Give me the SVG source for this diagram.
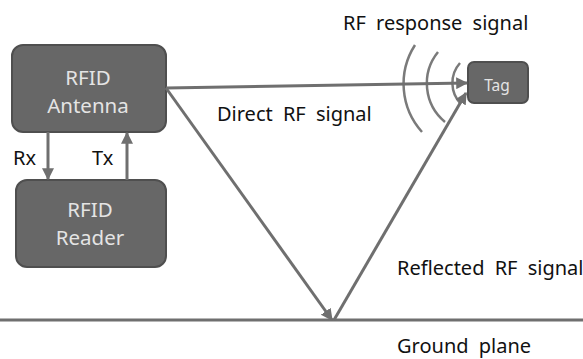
<svg xmlns="http://www.w3.org/2000/svg" width="583" height="359" viewBox="0 0 583 359">
  <style>
    .box { fill: #676767; stroke: #4f4f4f; stroke-width: 2; }
    .boxtxt { fill: #e4e4e4; font-family: "Noto Sans", "Open Sans", sans-serif; font-size: 20.5px; text-anchor: middle; }
    .lbl { fill: #111; font-family: "Noto Sans", "Open Sans", sans-serif; font-size: 20px; word-spacing: 5px; }
    .ln { stroke: #6f6f6f; stroke-width: 3; fill: none; }
    .wave { stroke: #7a7a7a; stroke-width: 2.5; fill: none; }
  </style>
  <defs>
    <marker id="ah" viewBox="0 0 10 10" refX="9" refY="5" markerWidth="4" markerHeight="4" orient="auto" markerUnits="strokeWidth">
      <path d="M0,0 L10,5 L0,10 Z" fill="#6f6f6f"/>
    </marker>
  </defs>
  <rect width="583" height="359" fill="#ffffff"/>

  <g id="ground">
    <line x1="0" y1="320" x2="583" y2="320" class="ln"/>
    <text x="397" y="353" class="lbl">Ground plane</text>
  </g>

  <g id="antenna">
    <rect x="12" y="45" width="154" height="87" rx="11" class="box"/>
    <text x="88" y="85" class="boxtxt">RFID</text>
    <text x="88" y="113" class="boxtxt">Antenna</text>
  </g>

  <g id="reader">
    <rect x="16" y="180" width="150" height="87" rx="11" class="box"/>
    <text x="90" y="217" class="boxtxt">RFID</text>
    <text x="90" y="245" class="boxtxt">Reader</text>
  </g>

  <g id="tag">
    <rect x="468" y="62" width="60" height="41" rx="6" class="box"/>
    <text x="497" y="91" class="boxtxt" style="font-size:15.5px">Tag</text>
  </g>

  <g id="waves">
    <path d="M415,45 A72,72 0 0 0 422,132" class="wave"/>
    <path d="M438,52 A50,50 0 0 0 445,122" class="wave"/>
    <path d="M460,63 A30,30 0 0 0 461,104" class="wave"/>
  </g>

  <g id="connectors">
    <line x1="48" y1="132" x2="48" y2="179" class="ln" marker-end="url(#ah)"/>
    <line x1="127" y1="180" x2="127" y2="133" class="ln" marker-end="url(#ah)"/>
    <line x1="166" y1="88" x2="467" y2="83" class="ln" marker-end="url(#ah)"/>
    <line x1="166" y1="88" x2="332" y2="320" class="ln" marker-end="url(#ah)"/>
    <line x1="334" y1="320" x2="466" y2="93" class="ln" marker-end="url(#ah)"/>
  </g>

  <g id="labels">
    <text x="13" y="165" class="lbl">Rx</text>
    <text x="92" y="165" class="lbl">Tx</text>
    <text x="343" y="30" class="lbl">RF response signal</text>
    <text x="217" y="121" class="lbl">Direct RF signal</text>
    <text x="397" y="275" class="lbl">Reflected RF signal</text>
  </g>
</svg>
